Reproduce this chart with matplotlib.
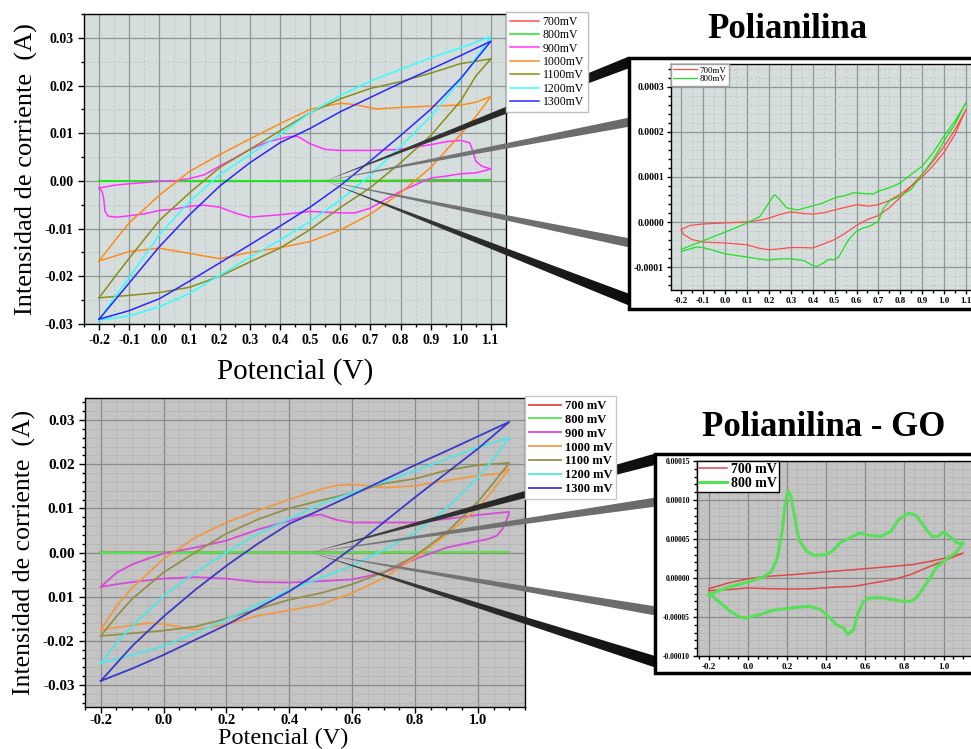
import numpy as np
import matplotlib
matplotlib.use('Agg')
import matplotlib.pyplot as plt
from matplotlib.patches import Polygon, Rectangle
from matplotlib.colors import LinearSegmentedColormap
from matplotlib.ticker import MultipleLocator

plt.rcParams['font.family'] = ['Liberation Serif', 'DejaVu Serif']

W, H = 971, 749

# ---------------- Polianilina (top) ----------------
labels_top = ['700mV', '800mV', '900mV', '1000mV', '1100mV', '1200mV', '1300mV']
labels_bot = ['700 mV', '800 mV', '900 mV', '1000 mV', '1100 mV', '1200 mV', '1300 mV']

# 700 / 800 mV in units of 1e-4 A (same data for main plot and zoom)
pani_e_700 = [-0.2, -0.16, -0.1, 0.0, 0.1, 0.16, 0.2, 0.25, 0.3, 0.36, 0.4, 0.45, 0.5, 0.55, 0.6, 0.66, 0.7,
              0.75, 0.8, 0.85, 0.9, 0.95, 1.0, 1.05, 1.1,
              1.05, 1.0, 0.95, 0.9, 0.85, 0.8, 0.75, 0.7, 0.65, 0.6, 0.55, 0.5, 0.45, 0.4, 0.35, 0.3, 0.25,
              0.2, 0.15, 0.1, 0.0, -0.1, -0.15, -0.19, -0.2]
pani_i_700 = [-0.16, -0.07, -0.04, -0.015, 0.007, 0.044, 0.09, 0.17, 0.23, 0.19, 0.18, 0.21, 0.27, 0.33, 0.385,
              0.355, 0.39, 0.48, 0.62, 0.80, 1.00, 1.25, 1.55, 1.95, 2.50,
              2.05, 1.68, 1.35, 1.06, 0.80, 0.55, 0.32, 0.15, 0.06, -0.07, -0.24, -0.385, -0.48, -0.57, -0.56,
              -0.56, -0.59, -0.61, -0.57, -0.50, -0.46, -0.44, -0.385, -0.27, -0.16]
pani_e_800 = [-0.2, -0.1, 0.0, 0.1, 0.16, 0.19, 0.225, 0.25, 0.28, 0.33, 0.4, 0.45, 0.5, 0.55, 0.585, 0.65, 0.68,
              0.7, 0.75, 0.8, 0.85, 0.9, 0.95, 1.0, 1.05, 1.1,
              1.05, 1.0, 0.95, 0.9, 0.85, 0.8, 0.75, 0.72, 0.7, 0.66, 0.63, 0.6, 0.57, 0.55, 0.52, 0.5, 0.47,
              0.45, 0.42, 0.4, 0.36, 0.3, 0.25, 0.2, 0.15, 0.1, 0.0, -0.1, -0.13, -0.16, -0.2]
pani_i_800 = [-0.60, -0.41, -0.22, -0.02, 0.13, 0.36, 0.61, 0.50, 0.32, 0.27, 0.36, 0.43, 0.54, 0.59, 0.65, 0.63,
              0.63, 0.69, 0.76, 0.87, 1.06, 1.24, 1.54, 1.91, 2.24, 2.65,
              2.17, 1.80, 1.39, 1.06, 0.73, 0.58, 0.47, 0.28, 0.02, -0.09, -0.13, -0.20, -0.35, -0.50, -0.76,
              -0.83, -0.83, -0.90, -0.98, -0.96, -0.85, -0.81, -0.81, -0.84, -0.81, -0.77, -0.70, -0.56, -0.55,
              -0.59, -0.65]

pani_e_900 = [-0.2, -0.15, -0.1, 0.0, 0.05, 0.1, 0.15, 0.2, 0.25, 0.3, 0.36, 0.43, 0.46, 0.5, 0.55, 0.6, 0.7, 0.8,
              0.87, 0.9, 0.96, 1.0, 1.03, 1.04, 1.05, 1.07, 1.1,
              1.05, 1.0, 0.95, 0.9, 0.85, 0.8, 0.75, 0.7, 0.65, 0.6, 0.5, 0.4, 0.3, 0.25, 0.2, 0.15, 0.1, 0.05,
              0.0, -0.05, -0.1, -0.14, -0.17, -0.18, -0.185, -0.19, -0.2]
pani_i_900 = [-0.0015, -0.0009, -0.0006, -0.0001, 0.0, 0.0005, 0.0013, 0.0031, 0.0048, 0.0066, 0.0082, 0.0093,
              0.0093, 0.0078, 0.0066, 0.0064, 0.0064, 0.0066, 0.0073, 0.0076, 0.0083, 0.0085, 0.0080, 0.0062,
              0.0041, 0.0031, 0.0025,
              0.0017, 0.0015, 0.0010, 0.0006, -0.0008, -0.0022, -0.0039, -0.0057, -0.0067, -0.0067, -0.0064,
              -0.0071, -0.0076, -0.0067, -0.0055, -0.0051, -0.0053, -0.0059, -0.0062, -0.0069, -0.0073, -0.0076,
              -0.0074, -0.0064, -0.0036, -0.0022, -0.0015]
pani_e_1000 = [-0.2, -0.15, -0.1, 0.0, 0.1, 0.2, 0.3, 0.4, 0.5, 0.6, 0.65, 0.72, 0.8, 0.9, 1.0, 1.05, 1.1,
               1.05, 1.0, 0.9, 0.8, 0.7, 0.6, 0.5, 0.4, 0.3, 0.2, 0.1, 0.0, -0.1, -0.2]
pani_i_1000 = [-0.0168, -0.0127, -0.0088, -0.0030, 0.0020, 0.0055, 0.0088, 0.0120, 0.0150, 0.0163, 0.0160,
               0.0151, 0.0154, 0.0157, 0.0159, 0.0165, 0.0177,
               0.0135, 0.0098, 0.0028, -0.0025, -0.0070, -0.0103, -0.0127, -0.0140, -0.0150, -0.0163, -0.0152,
               -0.0141, -0.0148, -0.0168]
pani_e_1100 = [-0.2, -0.15, -0.1, 0.0, 0.1, 0.2, 0.3, 0.4, 0.5, 0.6, 0.7, 0.8, 0.9, 1.0, 1.1,
               1.05, 1.0, 0.9, 0.8, 0.7, 0.6, 0.5, 0.4, 0.3, 0.2, 0.1, 0.0, -0.1, -0.2]
pani_i_1100 = [-0.0245, -0.0203, -0.0162, -0.0083, -0.0025, 0.0028, 0.0066, 0.0105, 0.0143, 0.0172, 0.0194,
               0.0208, 0.0226, 0.0246, 0.0256,
               0.0220, 0.0168, 0.0095, 0.0038, -0.0014, -0.0056, -0.0102, -0.0141, -0.0170, -0.0200, -0.0223,
               -0.0234, -0.0240, -0.0245]
pani_e_1200 = [-0.2, -0.15, -0.1, 0.0, 0.1, 0.2, 0.3, 0.4, 0.5, 0.6, 0.7, 0.8, 0.9, 1.0, 1.1,
               1.05, 1.0, 0.9, 0.8, 0.7, 0.6, 0.5, 0.4, 0.3, 0.2, 0.1, 0.0, -0.1, -0.2]
pani_i_1200 = [-0.0292, -0.0245, -0.0203, -0.0113, -0.0043, 0.0013, 0.0055, 0.0097, 0.0143, 0.0179, 0.0209,
               0.0234, 0.0258, 0.0279, 0.0303,
               0.0258, 0.0212, 0.0135, 0.0072, 0.0012, -0.0040, -0.0085, -0.0124, -0.0160, -0.0198, -0.0236,
               -0.0264, -0.0283, -0.0292]
pani_e_1300 = [-0.2, -0.1, 0.0, 0.1, 0.2, 0.3, 0.4, 0.5, 0.6, 0.7, 0.8, 0.9, 1.0, 1.1,
               1.0, 0.9, 0.8, 0.7, 0.6, 0.5, 0.4, 0.3, 0.2, 0.1, 0.0, -0.1, -0.2]
pani_i_1300 = [-0.0290, -0.0214, -0.0138, -0.0071, -0.0011, 0.0038, 0.0080, 0.0110, 0.0145, 0.0175, 0.0205,
               0.0234, 0.0263, 0.0293,
               0.0215, 0.0150, 0.0095, 0.0042, -0.0010, -0.0055, -0.0095, -0.0134, -0.0172, -0.0210, -0.0247,
               -0.0272, -0.0290]

# ---------------- Polianilina - GO (bottom) ----------------
# 700 / 800 mV in units of 1e-5 A
go_e_700 = [-0.2, -0.1, 0.0, 0.1, 0.23, 0.33, 0.43, 0.54, 0.64, 0.74, 0.84, 0.93, 1.01, 1.1,
            1.01, 0.96, 0.89, 0.83, 0.74, 0.64, 0.54, 0.43, 0.33, 0.23, 0.1, 0.0, -0.1, -0.2]
go_i_700 = [-1.37, -0.64, -0.10, 0.21, 0.43, 0.64, 0.85, 1.07, 1.28, 1.49, 1.71, 2.13, 2.56, 3.20,
            2.30, 1.79, 1.07, 0.43, -0.21, -0.64, -1.07, -1.19, -1.37, -1.41, -1.37, -1.28, -1.49, -1.62]
go_e_800 = [-0.2, -0.1, 0.0, 0.08, 0.12, 0.15, 0.175, 0.19, 0.205, 0.22, 0.24, 0.26, 0.3, 0.34, 0.4, 0.43, 0.47,
            0.52, 0.57, 0.62, 0.68, 0.73, 0.77, 0.82, 0.86, 0.9, 0.94, 0.97, 1.0, 1.03, 1.07, 1.1,
            1.06, 1.01, 0.96, 0.93, 0.89, 0.86, 0.83, 0.79, 0.74, 0.69, 0.62, 0.59, 0.56, 0.54, 0.51, 0.49,
            0.45, 0.42, 0.37, 0.32, 0.25, 0.2, 0.13, 0.06, -0.01, -0.04, -0.09, -0.15, -0.18, -0.2]
go_i_800 = [-2.13, -1.19, -0.51, 0.13, 0.85, 2.56, 5.97, 9.39, 11.1, 10.5, 7.68, 4.91, 3.41, 2.90, 2.99, 3.41,
            4.48, 5.12, 5.76, 5.46, 5.33, 5.97, 7.47, 8.32, 8.02, 6.61, 5.33, 5.33, 5.89, 5.33, 4.48, 4.48,
            3.20, 2.35, 1.28, 0.0, -1.49, -2.56, -2.99, -2.99, -2.77, -2.56, -2.56, -2.99, -4.69, -6.61,
            -7.25, -6.40, -5.97, -5.12, -4.05, -3.63, -3.75, -3.92, -4.14, -4.69, -5.12, -5.03, -4.27, -2.99,
            -2.35, -2.13]
go_e_900 = [-0.2, -0.15, -0.1, -0.05, 0.0, 0.1, 0.2, 0.3, 0.4, 0.45, 0.5, 0.55, 0.6, 0.7, 0.8, 0.9, 1.0, 1.07, 1.1,
            1.095, 1.08, 1.06, 1.03, 1.0, 0.9, 0.8, 0.7, 0.6, 0.5, 0.4, 0.3, 0.2, 0.1, 0.0, -0.1, -0.15, -0.2]
go_i_900 = [-0.0078, -0.0046, -0.0027, -0.0014, -0.0002, 0.0011, 0.0027, 0.0052, 0.0072, 0.0082, 0.0086, 0.0074,
            0.0068, 0.0068, 0.0068, 0.0076, 0.0085, 0.0090, 0.0092,
            0.0080, 0.0055, 0.0038, 0.0030, 0.0026, 0.0011, -0.0015, -0.0046, -0.0061, -0.0065, -0.0068,
            -0.0067, -0.0059, -0.0056, -0.0059, -0.0067, -0.0072, -0.0078]
go_e_1000 = [-0.2, -0.15, -0.1, 0.0, 0.1, 0.2, 0.3, 0.4, 0.5, 0.55, 0.6, 0.65, 0.7, 0.8, 0.9, 1.0, 1.07, 1.1,
             1.05, 1.0, 0.9, 0.8, 0.7, 0.6, 0.5, 0.4, 0.3, 0.2, 0.1, 0.0, -0.05, -0.1, -0.2]
go_i_1000 = [-0.0175, -0.0122, -0.0080, -0.0015, 0.0034, 0.0068, 0.0095, 0.0120, 0.0143, 0.0152, 0.0154, 0.0151,
             0.0147, 0.0151, 0.0163, 0.0174, 0.0179, 0.0190,
             0.0143, 0.0100, 0.0040, -0.0012, -0.0058, -0.0092, -0.0118, -0.0131, -0.0143, -0.0163, -0.0175,
             -0.0162, -0.0160, -0.0165, -0.0175]
go_e_1100 = [-0.2, -0.15, -0.1, 0.0, 0.1, 0.2, 0.3, 0.4, 0.5, 0.6, 0.7, 0.8, 0.9, 1.0, 1.1,
             1.05, 1.0, 0.9, 0.8, 0.7, 0.6, 0.5, 0.4, 0.3, 0.2, 0.1, 0.0, -0.1, -0.2]
go_i_1100 = [-0.0189, -0.0145, -0.0105, -0.0045, 0.0000, 0.0043, 0.0075, 0.0100, 0.0118, 0.0135, 0.0156, 0.0167,
             0.0186, 0.0198, 0.0203,
             0.0158, 0.0115, 0.0045, -0.0008, -0.0045, -0.0072, -0.0092, -0.0107, -0.0128, -0.0150, -0.0168,
             -0.0177, -0.0183, -0.0189]
go_e_1200 = [-0.2, -0.15, -0.1, 0.0, 0.1, 0.2, 0.3, 0.4, 0.5, 0.6, 0.7, 0.8, 0.9, 1.0, 1.1,
             1.05, 1.0, 0.9, 0.8, 0.7, 0.6, 0.5, 0.4, 0.3, 0.2, 0.1, 0.0, -0.1, -0.2]
go_i_1200 = [-0.0251, -0.0205, -0.0167, -0.0099, -0.0046, 0.0000, 0.0042, 0.0076, 0.0110, 0.0135, 0.0160, 0.0185,
             0.0212, 0.0238, 0.0260,
             0.0212, 0.0170, 0.0100, 0.0045, 0.0005, -0.0030, -0.0058, -0.0085, -0.0118, -0.0152, -0.0183,
             -0.0212, -0.0232, -0.0251]
go_e_1300 = [-0.2, -0.1, 0.0, 0.1, 0.2, 0.3, 0.4, 0.5, 0.6, 0.7, 0.8, 0.9, 1.0, 1.1,
             1.0, 0.9, 0.8, 0.7, 0.6, 0.5, 0.4, 0.3, 0.2, 0.1, 0.0, -0.1, -0.2]
go_i_1300 = [-0.0291, -0.0212, -0.0145, -0.0085, -0.0030, 0.0020, 0.0065, 0.0097, 0.0130, 0.0164, 0.0198, 0.0230,
             0.0263, 0.0296,
             0.0235, 0.0180, 0.0125, 0.0068, 0.0010, -0.0042, -0.0088, -0.0126, -0.0164, -0.0198, -0.0232,
             -0.0263, -0.0291]

# tick labels
top_xticks = [-0.2, -0.1, 0.0, 0.1, 0.2, 0.3, 0.4, 0.5, 0.6, 0.7, 0.8, 0.9, 1.0, 1.1]
top_xlabels = ['-0.2', '-0.1', '0.0', '0.1', '0.2', '0.3', '0.4', '0.5', '0.6', '0.7', '0.8', '0.9', '1.0', '1.1']
top_yticks = [-0.03, -0.02, -0.01, 0.0, 0.01, 0.02, 0.03]
top_ylabels = ['-0.03', '-0.02', '-0.01', '0.00', '0.01', '0.02', '0.03']
bot_xticks = [-0.2, 0.0, 0.2, 0.4, 0.6, 0.8, 1.0]
bot_xlabels = ['-0.2', '0.0', '0.2', '0.4', '0.6', '0.8', '1.0']
bot_ylabels = ['-0.03', '-0.02', '0.01', '0.00', '0.01', '0.02', '0.03']
ins1_yticks = [-0.0001, 0.0, 0.0001, 0.0002, 0.0003]
ins1_ylabels = ['-0.0001', '0.0000', '0.0001', '0.0002', '0.0003']
ins2_yticks = [-0.0001, -0.00005, 0.0, 0.00005, 0.0001, 0.00015]
ins2_ylabels = ['-0.00010', '-0.00005', '0.00000', '0.00005', '0.00010', '0.00015']

top_colors = ['#ff4d4d', '#22e022', '#ff33ff', '#ff8c1a', '#8c8c1a', '#33ffff', '#2828ff']
bot_colors = ['#e04848', '#55e055', '#d84ad8', '#f09a45', '#94904a', '#4ee6e6', '#3a3ac8']

TOP_BG = '#d6dddd'
BOT_BG = '#c4c4c4'


def px_rect(x0, y0, x1, y1):
    return [x0 / W, 1 - y1 / H, (x1 - x0) / W, (y1 - y0) / H]


def style_axis(ax, bg, fs, major_c, minor_c, minor_ls):
    ax.set_facecolor(bg)
    ax.grid(True, which='major', color=major_c, lw=0.9, ls='-')
    ax.grid(True, which='minor', color=minor_c, lw=0.5, ls=minor_ls)
    ax.set_axisbelow(True)
    ax.tick_params(which='both', direction='out', width=1, labelsize=fs)
    ax.tick_params(which='major', length=4)
    ax.tick_params(which='minor', length=2)
    for lab in ax.get_xticklabels() + ax.get_yticklabels():
        lab.set_fontweight('bold')
    for sp in ax.spines.values():
        sp.set_linewidth(1.0)
        sp.set_color('black')


fig = plt.figure(figsize=(W / 100, H / 100), dpi=100)

# ---------- top main ----------
ax1 = fig.add_axes(px_rect(84, 14, 506, 324))
top_series = [(pani_e_700, np.array(pani_i_700) * 1e-4), (pani_e_800, np.array(pani_i_800) * 1e-4),
              (pani_e_900, pani_i_900), (pani_e_1000, pani_i_1000), (pani_e_1100, pani_i_1100),
              (pani_e_1200, pani_i_1200), (pani_e_1300, pani_i_1300)]
h1 = []
for (e, i), c in zip(top_series, top_colors):
    h1 += ax1.plot(e, i, color=c, lw=1.1)
ax1.set_xlim(-0.25, 1.15)
ax1.set_ylim(-0.03, 0.035)
ax1.set_xticks(top_xticks)
ax1.set_xticklabels(top_xlabels)
ax1.set_yticks(top_yticks)
ax1.set_yticklabels(top_ylabels)
ax1.xaxis.set_minor_locator(MultipleLocator(0.05))
ax1.yaxis.set_minor_locator(MultipleLocator(0.005))
style_axis(ax1, TOP_BG, 10, '#8e9696', '#b4bebe', (0, (3, 3)))
ax1.set_ylabel('Intensidad de corriente  (A)', fontsize=19)
ax1.yaxis.set_label_coords(-0.108, 0.5)
ax1.set_xlabel('Potencial (V)', fontsize=21)
ax1.xaxis.set_label_coords(0.5, -0.11)

# ---------- bottom main ----------
ax2 = fig.add_axes(px_rect(85, 398, 525, 707))
bot_series = [(go_e_700, np.array(go_i_700) * 1e-5), (go_e_800, np.array(go_i_800) * 1e-5),
              (go_e_900, go_i_900), (go_e_1000, go_i_1000), (go_e_1100, go_i_1100),
              (go_e_1200, go_i_1200), (go_e_1300, go_i_1300)]
h2 = []
for (e, i), c in zip(bot_series, bot_colors):
    h2 += ax2.plot(e, i, color=c, lw=1.3)
ax2.set_xlim(-0.25, 1.15)
ax2.set_ylim(-0.035, 0.035)
ax2.set_xticks(bot_xticks)
ax2.set_xticklabels(bot_xlabels)
ax2.set_yticks(top_yticks)
ax2.set_yticklabels(bot_ylabels)
ax2.xaxis.set_minor_locator(MultipleLocator(0.05))
ax2.yaxis.set_minor_locator(MultipleLocator(0.002))
style_axis(ax2, BOT_BG, 11, '#8a8a8a', '#b2b2b2', '-')
ax2.tick_params(axis='x', pad=1, labelsize=10.5)
ax2.set_ylabel('Intensidad de corriente  (A)', fontsize=18.5)
ax2.yaxis.set_label_coords(-0.111, 0.5)
ax2.set_xlabel('Potencial (V)', fontsize=17.5)
ax2.xaxis.set_label_coords(0.45, -0.066)

# ---------- overlay: zoom wedges, boxes, titles ----------
ov = fig.add_axes([0, 0, 1, 1], zorder=5)
ov.patch.set_alpha(0)
ov.axis('off')


def wedge(src, end, half, c_apex, c_end):
    sx, sy = src
    ex, ey = end
    d = np.array([ex - sx, ey - sy], dtype=float)
    n = np.array([-d[1], d[0]]) / np.hypot(*d)
    pts = [(sx, sy), (ex + n[0] * half, ey + n[1] * half), (ex - n[0] * half, ey - n[1] * half)]
    poly = Polygon(pts, closed=True, fc='none', ec='none')
    ov.add_patch(poly)
    xs = [p[0] for p in pts]
    ys = [p[1] for p in pts]
    cmap = LinearSegmentedColormap.from_list('wedge', [c_apex, c_end])
    grad = np.linspace(0, 1, 256).reshape(1, -1)
    im = ov.imshow(grad, extent=(min(xs), max(xs), max(ys), min(ys)), cmap=cmap,
                   aspect='auto', interpolation='bilinear')
    im.set_clip_path(poly)


def src_px(ax, x, y):
    dx, dy = ax.transData.transform((x, y))
    return dx, H - dy


s1 = src_px(ax1, 0.55, 0.0)
wedge(s1, (630, 62), 5.5, '#4a4a4a', '#0c0c0c')
wedge(s1, (630, 122), 4.5, '#7a7a7a', '#6a6a6a')
wedge(s1, (630, 243), 4.5, '#7a7a7a', '#6a6a6a')
wedge(s1, (630, 300), 5.5, '#4a4a4a', '#0c0c0c')

s2 = src_px(ax2, 0.47, 0.0)
wedge(s2, (656, 459), 5.5, '#4a4a4a', '#0c0c0c')
wedge(s2, (656, 502), 4.5, '#7a7a7a', '#6a6a6a')
wedge(s2, (656, 611), 4.5, '#7a7a7a', '#6a6a6a')
wedge(s2, (656, 662), 5.5, '#4a4a4a', '#0c0c0c')

ov.add_patch(Rectangle((629, 58), 360, 251, fc='white', ec='black', lw=2.5))
ov.add_patch(Rectangle((655, 454), 340, 219, fc='white', ec='black', lw=2.5))

ov.text(787, 30, 'Polianilina', ha='center', va='center', fontsize=25, fontweight='bold')
ov.text(824, 427, 'Polianilina - GO', ha='center', va='center', fontsize=25, fontweight='bold')
ov.set_xlim(0, W)
ov.set_ylim(H, 0)

# legends of the main plots sit above the wedges
leg1 = fig.legend(h1, labels_top, loc='upper left', bbox_to_anchor=(1.0, 1.006), bbox_transform=ax1.transAxes,
                  borderaxespad=0, fontsize=8.5, handlelength=2.5, handletextpad=0.3, labelspacing=0.12,
                  borderpad=0.3, fancybox=False, framealpha=1, edgecolor='#c0c0c0')
leg1.set_zorder(5.5)
leg2 = fig.legend(h2, labels_bot, loc='upper left', bbox_to_anchor=(1.0, 1.006), bbox_transform=ax2.transAxes,
                  borderaxespad=0, prop={'weight': 'bold', 'size': 9}, handlelength=2.6, handletextpad=0.3,
                  labelspacing=0.15, borderpad=0.3, fancybox=False, framealpha=1, edgecolor='#c8c8c8')
leg2.set_zorder(5.5)

# ---------- top zoom ----------
ins1 = fig.add_axes(px_rect(671, 64, 977, 290), zorder=6)
ins1.plot(pani_e_700, np.array(pani_i_700) * 1e-4, color=top_colors[0], lw=0.9, label='700mV')
ins1.plot(pani_e_800, np.array(pani_i_800) * 1e-4, color=top_colors[1], lw=0.9, label='800mV')
ins1.set_xlim(-0.247, 1.15)
ins1.set_ylim(-0.00015, 0.00035)
ins1.set_xticks(top_xticks)
ins1.set_xticklabels(top_xlabels)
ins1.set_yticks(ins1_yticks)
ins1.set_yticklabels(ins1_ylabels)
ins1.xaxis.set_minor_locator(MultipleLocator(0.05))
ins1.yaxis.set_minor_locator(MultipleLocator(0.00002))
style_axis(ins1, TOP_BG, 6.5, '#8e9696', '#b4bebe', (0, (3, 3)))
ins1.tick_params(which='major', length=3, pad=2)
ins1.tick_params(axis='y', labelsize=7)
ins1.legend(loc='upper left', borderaxespad=0, fontsize=6.5, handlelength=2.6, handletextpad=0.3,
            labelspacing=0.05, borderpad=0.25, fancybox=False, framealpha=1, edgecolor='#a0a0a0')

# ---------- bottom zoom ----------
ins2 = fig.add_axes(px_rect(697, 461, 973, 656), zorder=6)
ins2.plot(go_e_700, np.array(go_i_700) * 1e-5, color=bot_colors[0], lw=1.1, label='700 mV')
ins2.plot(go_e_800, np.array(go_i_800) * 1e-5, color=bot_colors[1], lw=2.2, label='800 mV')
ins2.set_xlim(-0.26, 1.15)
ins2.set_ylim(-0.0001, 0.00015)
ins2.set_xticks(bot_xticks)
ins2.set_xticklabels(bot_xlabels)
ins2.set_yticks(ins2_yticks)
ins2.set_yticklabels(ins2_ylabels)
ins2.xaxis.set_minor_locator(MultipleLocator(0.05))
ins2.yaxis.set_minor_locator(MultipleLocator(0.00001))
style_axis(ins2, BOT_BG, 5.5, '#8a8a8a', '#b2b2b2', '-')
ins2.tick_params(which='major', length=3, pad=2)
ins2.tick_params(axis='x', labelsize=6.5)
ins2.legend(loc='upper left', borderaxespad=0, prop={'weight': 'bold', 'size': 10}, handlelength=2.0,
            handletextpad=0.3, labelspacing=0.05, borderpad=0.15, fancybox=False, framealpha=1,
            edgecolor='black')

fig.savefig('out.png', dpi=100)
